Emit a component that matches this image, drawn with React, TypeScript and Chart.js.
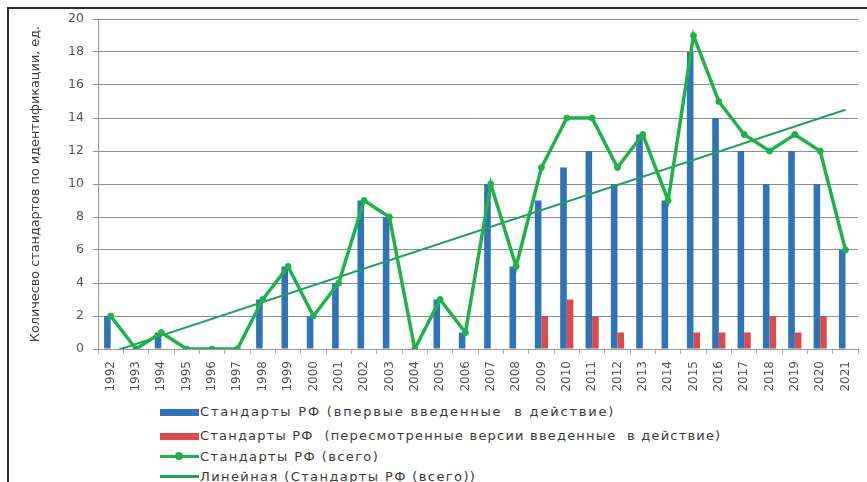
import React, { useEffect, useRef } from "react";
import { Chart, registerables } from "chart.js";

Chart.register(...registerables);

const years = [
  "1992", "1993", "1994", "1995", "1996", "1997", "1998", "1999", "2000", "2001",
  "2002", "2003", "2004", "2005", "2006", "2007", "2008", "2009", "2010", "2011",
  "2012", "2013", "2014", "2015", "2016", "2017", "2018", "2019", "2020", "2021",
];
const firstIntroduced = [2, 0, 1, 0, 0, 0, 3, 5, 2, 4, 9, 8, 0, 3, 1, 10, 5, 9, 11, 12, 10, 13, 9, 18, 14, 12, 10, 12, 10, 6];
const revisedVersions = [0, 0, 0, 0, 0, 0, 0, 0, 0, 0, 0, 0, 0, 0, 0, 0, 0, 2, 3, 2, 1, 0, 0, 1, 1, 1, 2, 1, 2, 0];
const totalStandards = [2, 0, 1, 0, 0, 0, 3, 5, 2, 4, 9, 8, 0, 3, 1, 10, 5, 11, 14, 14, 11, 13, 9, 19, 15, 13, 12, 13, 12, 6];
const trendEnds = [-0.2, 14.5];
const yTicks = [0, 2, 4, 6, 8, 10, 12, 14, 16, 18, 20];

const seriesNames = [
  "Стандарты РФ (впервые введенные  в действие)",
  "Стандарты РФ  (пересмотренные версии введенные  в действие)",
  "Стандарты РФ (всего)",
  "Линейная (Стандарты РФ (всего))",
];
const yTitle = "Количесво стандартов по идентификации, ед.";

const BLUE = "#2f73b8";
const RED = "#dc4b4b";
const GREEN = "#1fb24a";
const TREND = "#22a256";
const FONT = "'DejaVu Sans', sans-serif";

export default function App() {
  const ref = useRef<HTMLCanvasElement>(null);

  useEffect(() => {
    if (!ref.current) return;
    const trendData = years.map((_, i) =>
      i === 0 ? trendEnds[0] : i === years.length - 1 ? trendEnds[1] : null
    );
    const chart = new Chart(ref.current, {
      type: "bar",
      data: {
        labels: years,
        datasets: [
          {
            type: "line",
            label: seriesNames[2],
            data: totalStandards,
            borderColor: GREEN,
            backgroundColor: GREEN,
            borderWidth: 3.5,
            pointRadius: 3,
            pointBorderWidth: 1,
            pointBackgroundColor: GREEN,
            pointBorderColor: GREEN,
            tension: 0,
            order: 1,
          } as any,
          {
            type: "line",
            label: seriesNames[3],
            data: trendData,
            borderColor: TREND,
            borderWidth: 2,
            pointRadius: 0,
            spanGaps: true,
            order: 2,
          } as any,
          {
            label: seriesNames[0],
            data: firstIntroduced,
            backgroundColor: BLUE,
            categoryPercentage: 0.52,
            barPercentage: 1,
            order: 3,
          },
          {
            label: seriesNames[1],
            data: revisedVersions,
            backgroundColor: RED,
            categoryPercentage: 0.52,
            barPercentage: 1,
            order: 4,
          },
        ],
      },
      options: {
        animation: false,
        responsive: false,
        maintainAspectRatio: false,
        layout: { padding: { left: 0, right: 3, top: 19, bottom: 0 } },
        plugins: { legend: { display: false }, tooltip: { enabled: false } },
        scales: {
          x: {
            offset: true,
            grid: {
              display: true,
              drawOnChartArea: false,
              drawTicks: true,
              tickLength: 5,
              color: "#b0b0b0",
              offset: true,
            },
            border: { display: true, color: "#9a9a9a", width: 1 },
            ticks: {
              minRotation: 90,
              maxRotation: 90,
              autoSkip: false,
              padding: 7,
              color: "#555555",
              font: { family: FONT, size: 12 },
            },
            afterFit: (scale: any) => {
              scale.height = 51;
            },
          },
          y: {
            min: 0,
            max: 20,
            afterBuildTicks: (scale: any) => {
              scale.ticks = yTicks.map((v) => ({ value: v }));
            },
            grid: { color: "#8f8f8f", lineWidth: 1, tickLength: 5 },
            border: { display: true, color: "#9a9a9a", width: 1 },
            ticks: {
              color: "#555555",
              padding: 9,
              font: { family: FONT, size: 12.5 },
            },
            title: {
              display: true,
              text: yTitle,
              color: "#404040",
              font: { family: FONT, size: 12.8 },
              padding: { top: 28, bottom: 0 },
            },
            afterFit: (scale: any) => {
              scale.width = 98;
            },
          },
        },
      },
    });
    return () => chart.destroy();
  }, []);

  const rowText: React.CSSProperties = {
    position: "absolute",
    left: 200,
    fontFamily: FONT,
    fontSize: 13,
    letterSpacing: "1.4px",
    color: "#3a3a3a",
    whiteSpace: "pre",
    lineHeight: "16px",
  };

  return (
    <div style={{ position: "fixed", left: 0, top: 0, width: 867, height: 482, background: "#fff", overflow: "hidden" }}>
      <canvas ref={ref} width={867} height={400} style={{ position: "absolute", left: 0, top: 0, width: 867, height: 400 }} />
      <div style={{ position: "absolute", left: 7, top: 7, width: 860, height: 2, background: "#2a2a2a" }} />
      <div style={{ position: "absolute", left: 7, top: 7, width: 2, height: 475, background: "#2a2a2a" }} />

      <div style={{ position: "absolute", left: 160, top: 409, width: 39, height: 7, background: BLUE }} />
      <div style={{ ...rowText, top: 404, letterSpacing: "1.8px" }}>{seriesNames[0]}</div>

      <div style={{ position: "absolute", left: 160, top: 433, width: 39, height: 7, background: RED }} />
      <div style={{ ...rowText, top: 428, letterSpacing: "1.2px" }}>{seriesNames[1]}</div>

      <div style={{ position: "absolute", left: 160, top: 455, width: 39, height: 3, background: GREEN }} />
      <div style={{ position: "absolute", left: 175, top: 452, width: 8, height: 8, borderRadius: 4, background: GREEN }} />
      <div style={{ ...rowText, top: 449 }}>{seriesNames[2]}</div>

      <div style={{ position: "absolute", left: 160, top: 475, width: 39, height: 3, background: TREND }} />
      <div style={{ ...rowText, top: 469 }}>{seriesNames[3]}</div>
    </div>
  );
}
